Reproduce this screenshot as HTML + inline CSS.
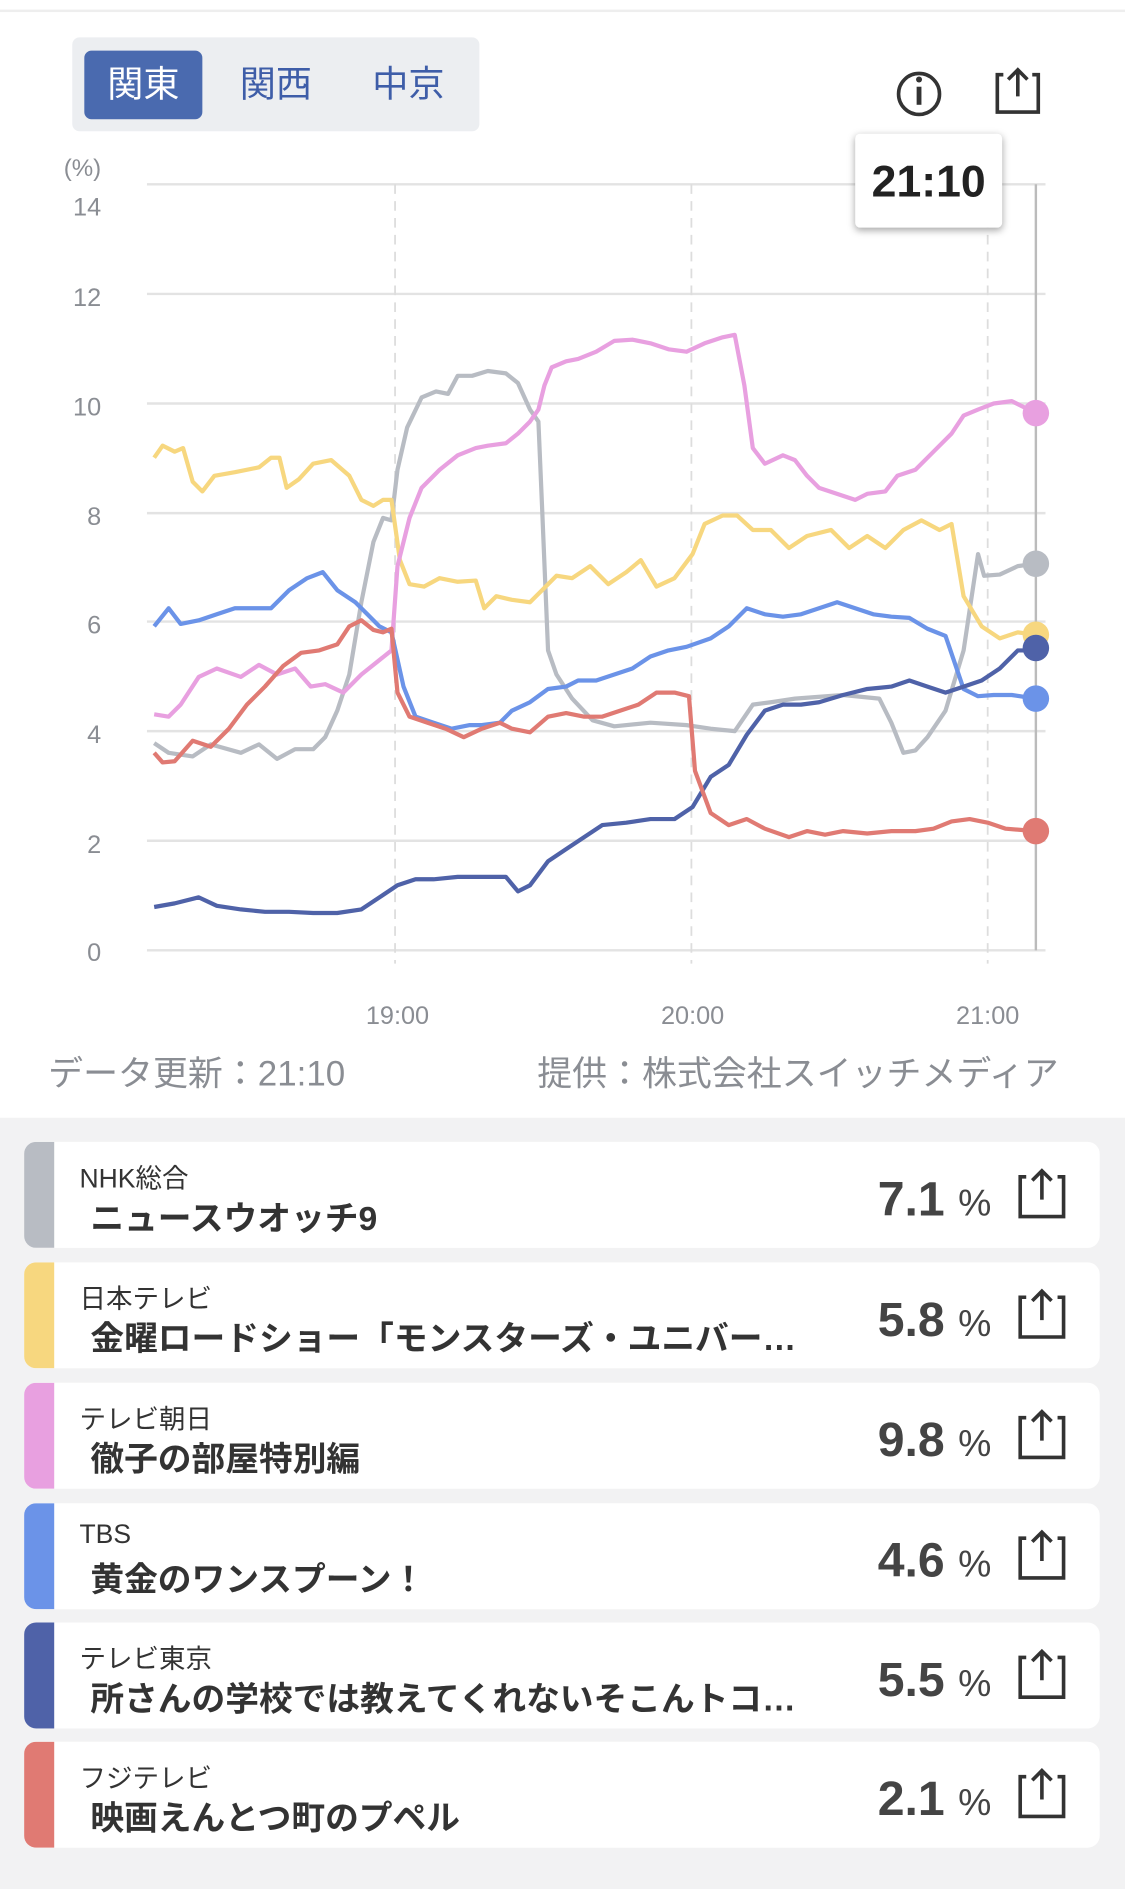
<!DOCTYPE html>
<html><head><meta charset="utf-8"><style>
html,body{margin:0;padding:0;background:#fff;width:1125px;height:1889px;overflow:hidden}
#w{width:934px;height:1569px;transform:scale(1.20450);transform-origin:0 0;position:relative;font-family:"Liberation Sans","Noto Sans CJK JP",sans-serif}
.tabs{position:absolute;left:60px;top:31px;width:338px;height:78px;background:#eceef1;border-radius:6px}
.tab{position:absolute;top:11px;height:57px;width:98px;line-height:57px;text-align:center;font-size:30px;color:#3e5da8}
.tab.a{background:#4a6aaf;color:#fff;border-radius:6px}
.tip{position:absolute;left:710px;top:111px;width:122px;height:78px;background:#fff;border-radius:4px;box-shadow:0 2px 6px rgba(0,0,0,.35);font-weight:bold;font-size:37px;line-height:80px;text-align:center;color:#222}
.foot{position:absolute;top:868px;font-size:29px;color:#8a8d93}
.bg{position:absolute;left:0;top:928px;width:934px;height:641px;background:#f2f2f3}
.card{position:absolute;left:20px;width:893px;height:88px;background:#fff;border-radius:10px;overflow:hidden}
.strip{position:absolute;left:0;top:0;width:25px;height:88px}
.ch{position:absolute;left:46px;top:13px;font-size:22px;color:#333}
.ti{position:absolute;left:55px;top:42px;font-size:28px;font-weight:bold;color:#333;white-space:nowrap}
.pc{position:absolute;right:90px;top:26px;font-size:40px;font-weight:bold;color:#444}
.pc span{font-size:31px;font-weight:normal}
</style></head><body><div id="w">
<div style="position:absolute;left:0;top:8px;width:934px;height:2px;background:#eee"></div>
<div class="tabs"><div class="tab a" style="left:10px">関東</div><div class="tab" style="left:120px">関西</div><div class="tab" style="left:230px">中京</div></div>
<svg style="position:absolute;left:0;top:0" width="934" height="930">
<circle cx="763" cy="78" r="17" fill="none" stroke="#333" stroke-width="3"/>
<rect x="761" y="72" width="4" height="15" fill="#333"/><circle cx="763" cy="66" r="2.5" fill="#333"/>
<path d="M833,62 H828 V93 H862 V62 H857" fill="none" stroke="#333" stroke-width="3"/>
<path d="M845,80 V58 M837,66 L845,58 L853,66" fill="none" stroke="#333" stroke-width="3"/>
<g stroke="#e3e3e3" stroke-width="2">
<line x1="122" y1="153" x2="868" y2="153"/><line x1="122" y1="244" x2="868" y2="244"/><line x1="122" y1="335" x2="868" y2="335"/><line x1="122" y1="426" x2="868" y2="426"/><line x1="122" y1="516" x2="868" y2="516"/><line x1="122" y1="607" x2="868" y2="607"/><line x1="122" y1="698" x2="868" y2="698"/><line x1="122" y1="789" x2="868" y2="789"/></g>
<g stroke="#ddd" stroke-width="1.5" stroke-dasharray="8,6"><line x1="328" y1="153" x2="328" y2="800"/><line x1="574" y1="153" x2="574" y2="800"/><line x1="820" y1="153" x2="820" y2="800"/></g>
<line x1="860" y1="153" x2="860" y2="789" stroke="#bbb" stroke-width="2"/>
<g font-size="21" fill="#8a8d93" text-anchor="end">
<text x="84" y="146" font-size="20">(%)</text>
<text x="84" y="179">14</text><text x="84" y="254">12</text><text x="84" y="345">10</text><text x="84" y="436">8</text><text x="84" y="526">6</text><text x="84" y="617">4</text><text x="84" y="708">2</text><text x="84" y="798">0</text></g>
<g font-size="21" fill="#8a8d93" text-anchor="middle"><text x="330" y="850">19:00</text><text x="575" y="850">20:00</text><text x="820" y="850">21:00</text></g>
<g fill="none" stroke-width="3.5" stroke-linejoin="round">
<polyline stroke="#b8bcc3" points="128,617 140,625 160,628 175,618 200,625 215,618 230,630 245,622 260,622 270,612 280,590 290,560 300,500 310,450 318,430 325,432 330,390 338,355 350,330 362,325 372,327 380,312 392,312 405,308 420,310 430,318 440,340 447,350 450,420 455,540 462,560 475,580 492,598 510,603 540,600 570,602 590,605 610,607 625,585 640,583 660,580 700,577 730,580 740,600 750,625 760,623 770,612 785,590 800,540 812,460 817,478 830,477 845,470 860,468"/>
<polyline stroke="#f7d77f" points="128,380 135,370 145,375 152,372 160,400 168,408 178,395 195,392 215,388 225,380 232,380 238,405 248,398 260,385 275,382 290,395 300,415 310,420 318,415 325,415 332,465 340,485 352,487 365,480 380,483 395,482 402,505 412,495 425,498 440,500 450,490 462,478 475,480 490,470 505,485 520,475 532,465 545,487 560,480 575,460 585,435 600,428 612,428 625,440 640,440 655,455 670,445 690,440 705,455 720,445 735,455 750,440 765,432 780,440 790,435 800,495 815,520 830,530 845,525 860,527"/>
<polyline stroke="#e8a0e0" points="128,593 140,595 150,585 165,562 180,555 200,562 215,552 230,560 245,555 258,570 270,568 285,575 300,560 315,548 325,540 330,470 340,430 350,405 365,390 380,378 395,372 405,370 420,368 430,360 440,350 447,340 452,320 458,305 470,300 480,298 495,292 510,283 525,282 540,285 555,290 570,292 585,285 600,280 610,278 618,320 625,372 635,385 650,378 660,382 670,395 680,405 695,410 710,415 720,410 735,408 745,395 760,390 775,375 790,360 800,345 812,340 825,335 840,333 860,343"/>
<polyline stroke="#6b93e8" points="128,520 140,505 150,518 165,515 180,510 195,505 210,505 225,505 240,490 255,480 268,475 280,490 295,500 305,510 315,520 325,525 335,570 345,595 360,600 375,605 390,602 400,602 415,600 425,590 440,583 455,572 470,570 480,565 495,565 510,560 525,555 540,545 555,540 570,537 590,530 605,520 620,505 635,510 650,512 665,510 680,505 695,500 710,505 725,510 740,512 755,513 770,522 785,528 800,572 812,578 825,577 840,577 860,580"/>
<polyline stroke="#4f62a8" points="128,753 145,750 165,745 180,752 200,755 220,757 240,757 260,758 280,758 300,755 315,745 330,735 345,730 360,730 380,728 400,728 420,728 430,740 440,735 455,715 470,705 485,695 500,685 520,683 540,680 560,680 575,670 590,645 605,635 620,610 635,590 650,585 665,585 680,583 700,577 720,572 740,570 755,565 770,570 785,575 800,570 815,565 830,555 845,540 860,540"/>
<polyline stroke="#e07a73" points="128,625 135,633 145,632 160,615 175,620 190,605 205,585 220,570 235,553 250,542 265,540 280,535 290,520 300,515 310,523 318,525 325,522 330,575 340,595 355,600 370,605 385,612 400,605 415,600 425,605 440,608 455,595 470,592 485,595 500,595 515,590 530,585 545,575 560,575 572,578 577,640 590,675 605,685 620,680 635,688 655,695 670,690 685,693 700,690 720,692 740,690 760,690 775,688 790,682 805,680 820,683 835,688 860,690"/></g>
<circle cx="860" cy="468" r="11" fill="#b8bcc3"/><circle cx="860" cy="527" r="11" fill="#f7d77f"/><circle cx="860" cy="343" r="11" fill="#e8a0e0"/><circle cx="860" cy="580" r="11" fill="#6b93e8"/><circle cx="860" cy="538" r="11" fill="#4f62a8"/><circle cx="860" cy="690" r="11" fill="#e07a73"/>
</svg>
<div class="tip">21:10</div>
<div class="foot" style="left:40px">データ更新：21:10</div>
<div class="foot" style="left:446px">提供：株式会社スイッチメディア</div>
<div class="bg"></div>
<div class="card" style="top:948px"><div class="strip" style="background:#b8bcc3"></div><div class="ch">NHK総合</div><div class="ti">ニュースウオッチ9</div><div class="pc">7.1 <span>%</span></div></div>
<div class="card" style="top:1048px"><div class="strip" style="background:#f7d77f"></div><div class="ch">日本テレビ</div><div class="ti">金曜ロードショー「モンスターズ・ユニバー…</div><div class="pc">5.8 <span>%</span></div></div>
<div class="card" style="top:1148px"><div class="strip" style="background:#e8a0e0"></div><div class="ch">テレビ朝日</div><div class="ti">徹子の部屋特別編</div><div class="pc">9.8 <span>%</span></div></div>
<div class="card" style="top:1248px"><div class="strip" style="background:#6b93e8"></div><div class="ch">TBS</div><div class="ti">黄金のワンスプーン！</div><div class="pc">4.6 <span>%</span></div></div>
<div class="card" style="top:1347px"><div class="strip" style="background:#4f62a8"></div><div class="ch">テレビ東京</div><div class="ti">所さんの学校では教えてくれないそこんトコ…</div><div class="pc">5.5 <span>%</span></div></div>
<div class="card" style="top:1446px"><div class="strip" style="background:#e07a73"></div><div class="ch">フジテレビ</div><div class="ti">映画えんとつ町のプペル</div><div class="pc">2.1 <span>%</span></div></div>
<svg style="position:absolute;left:0;top:0" width="934" height="1569"><g fill="none" stroke="#333" stroke-width="3">
<path d="M852,977 H847 V1010 H883 V977 H878 M865,996 V972 M857,980 L865,972 L873,980"/>
<path d="M852,1077 H847 V1110 H883 V1077 H878 M865,1096 V1072 M857,1080 L865,1072 L873,1080"/>
<path d="M852,1177 H847 V1210 H883 V1177 H878 M865,1196 V1172 M857,1180 L865,1172 L873,1180"/>
<path d="M852,1277 H847 V1310 H883 V1277 H878 M865,1296 V1272 M857,1280 L865,1272 L873,1280"/>
<path d="M852,1376 H847 V1409 H883 V1376 H878 M865,1395 V1371 M857,1379 L865,1371 L873,1379"/>
<path d="M852,1475 H847 V1508 H883 V1475 H878 M865,1494 V1470 M857,1478 L865,1470 L873,1478"/></g></svg>
</div></body></html>
